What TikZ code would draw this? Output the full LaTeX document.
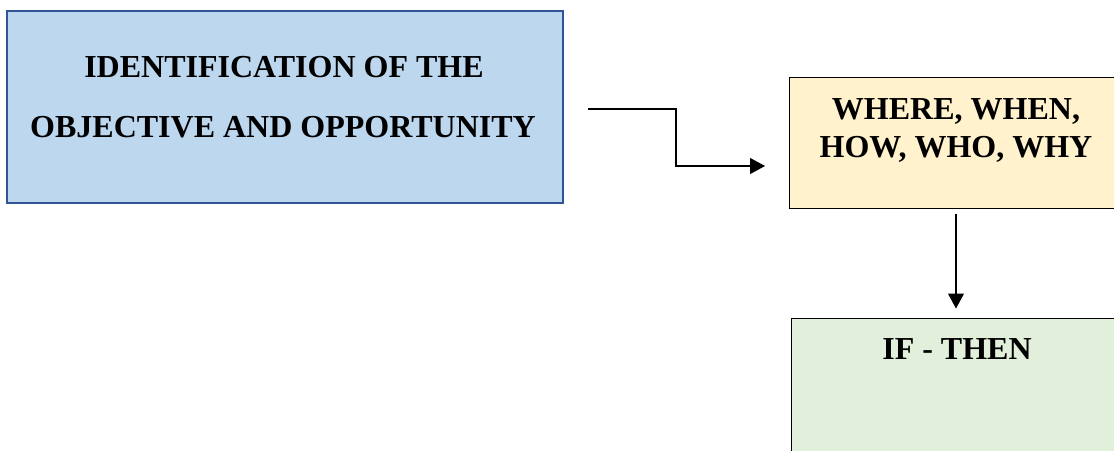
\documentclass[tikz,border=0pt]{standalone}
\usepackage{fontspec}
\setmainfont{Liberation Serif}
\usetikzlibrary{arrows.meta}
\definecolor{bluefill}{RGB}{189,215,238}
\definecolor{blueline}{RGB}{47,85,151}
\definecolor{yellowfill}{RGB}{255,242,204}
\definecolor{greenfill}{RGB}{226,239,218}
\tikzset{
  stagebox/.style={rectangle, inner sep=0pt},
  boxtext/.style={inner sep=0pt, anchor=base, font=\bfseries\fontsize{32}{38}\selectfont},
  arr/.style={line width=1.1pt, -{Triangle[length=15pt,width=16pt]}}
}
\begin{document}
\begin{tikzpicture}[x=1pt,y=-1pt]
\useasboundingbox (0,0) rectangle (1114,450);
\clip (0,0) rectangle (1114,450);
% stage boxes
\node[stagebox, draw=blueline, line width=2pt, fill=bluefill,
      minimum width=556, minimum height=192] (ident) at (285,107) {};
\node[stagebox, draw=black, line width=1pt, fill=yellowfill,
      minimum width=334, minimum height=131] (wh) at (956,142.5) {};
\node[stagebox, draw=black, line width=1pt, fill=greenfill,
      minimum width=332, minimum height=142] (ifthen) at (957,389) {};
% box labels
\node[boxtext] (identa) at (284,77) {IDENTIFICATION OF THE};
\node[boxtext] (identb) at (283,137) {OBJECTIVE AND OPPORTUNITY};
\node[boxtext] (wha) at (956,119) {WHERE, WHEN,};
\node[boxtext] (whb) at (956,157) {HOW, WHO, WHY};
\node[boxtext] (ifa) at (957,359) {IF - THEN};
% connectors
\coordinate (s1) at (588,109);
\coordinate (e1) at (765,166);
\draw[arr] (s1) -- (676,109) |- (e1);
\draw[arr, shorten <=5pt, shorten >=9pt] (wh.south) -- (wh.south |- ifthen.north);
\end{tikzpicture}
\end{document}
